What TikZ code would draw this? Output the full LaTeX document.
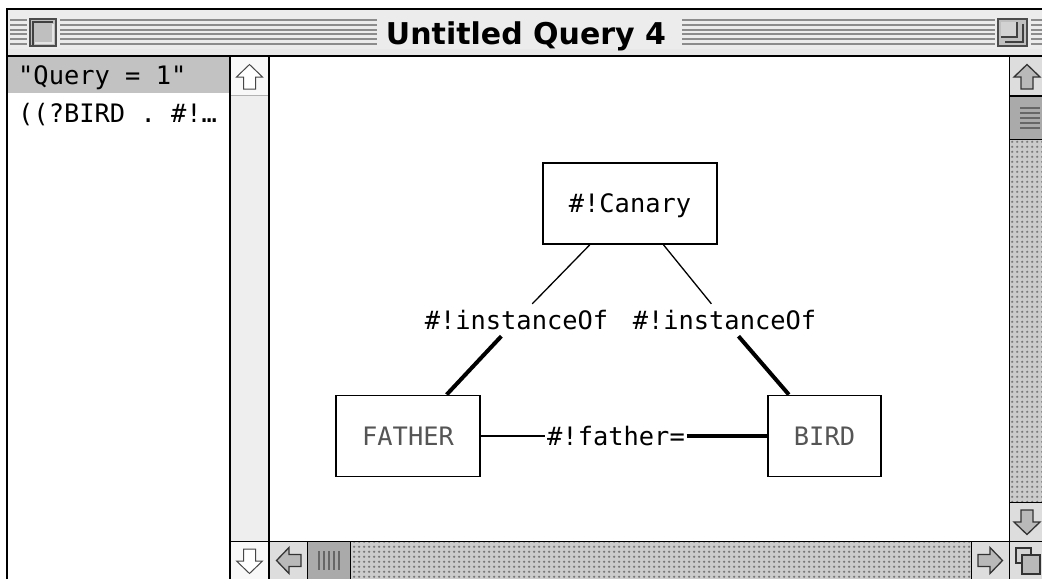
\documentclass[tikz,border=0pt]{standalone}
\usepackage{fontspec}
\usetikzlibrary{patterns.meta}
\newfontfamily\monof{DejaVu Sans Mono}
\newfontfamily\titlef{DejaVu Sans}
\newcommand\qmono{\monof\fontsize{25.4}{30}\selectfont}
\definecolor{titlebg}{RGB}{236,236,236}
\definecolor{stripec}{RGB}{140,140,140}
\definecolor{sbbg}{RGB}{221,221,221}
\definecolor{trackbg}{RGB}{204,204,204}
\definecolor{dotc}{RGB}{120,120,120}
\definecolor{thumbc}{RGB}{170,170,170}
\definecolor{hilite}{RGB}{194,194,194}
\definecolor{nodetxt}{RGB}{85,85,85}
\definecolor{listsb}{RGB}{238,238,238}
\tikzdeclarepattern{
  name=macdots,
  type=uncolored,
  bounding box={(0pt,0pt) and (4.7pt,4.7pt)},
  tile size={(4.7pt,4.7pt)},
  code={\fill (2.35pt,2.35pt) circle (1.3pt);}
}
\tikzset{
  macarrow/.pic={\path[pic actions] (0,-12.5) -- (13,0) -- (6,0) -- (6,12) -- (-6,12) -- (-6,0) -- (-13,0) -- cycle;},
  solidarrow/.style={fill=gray!55, draw=black!80, line width=1.3pt, line join=miter},
  hollowarrow/.style={fill=white, draw=gray!55!black, line width=1pt, line join=miter},
  stripeline/.style={stripec, line width=2pt},
  sepline/.style={black, line width=1.6pt},
  gbox/.style={draw, line width=1.8pt, fill=white, font=\qmono, minimum height=81pt,
    inner sep=0pt, text height=18.5pt, text depth=0pt},
  elab/.style={font=\qmono, inner xsep=1.5pt, inner ysep=0pt, text height=18.5pt,
    text depth=0pt, minimum height=32pt},
  thinedge/.style={line width=1.3pt},
  thickedge/.style={line width=4pt},
  listtext/.style={font=\qmono, anchor=base west, inner sep=0pt},
  ridge/.style={black!60, line width=1.4pt}
}
\begin{document}
\begin{tikzpicture}[x=1pt,y=-1pt]
\useasboundingbox (0,0) rectangle (1042,579);
\fill[white] (0,0) rectangle (1042,579);
% ---------- title bar ----------
\fill[titlebg] (7,9) rectangle (1042,55);
\fill[gray!18] (7,49) rectangle (1042,55);
\foreach \yy in {20,24.8,29.6,34.4,39.2,44}{
  \draw[stripeline] (10,\yy) -- (27,\yy);
  \draw[stripeline] (60,\yy) -- (377,\yy);
  \draw[stripeline] (682,\yy) -- (995,\yy);
  \draw[stripeline] (1031,\yy) -- (1042,\yy);
}
% close box
\fill[gray!50] (29,18) rectangle (57,47);
\draw[black!70, line width=2pt] (30,19) rectangle (56,46);
\draw[black!75, line width=1.6pt] (33,45) -- (33,22) -- (53,22);
\draw[white!80!gray, line width=1.2pt] (35,43) -- (53,43) -- (53,24);
% zoom box
\fill[gray!50] (997,18) rectangle (1028,47);
\draw[black!70, line width=2pt] (998,19) rectangle (1027,46);
\fill[gray!35] (1001,22) rectangle (1017,37);
\draw[black!75, line width=1.6pt] (1001,37) -- (1017,37) -- (1017,22);
\draw[black!75, line width=1.6pt] (1005,42) -- (1023,42) -- (1023,24);
% title
\node[font=\titlef\bfseries\fontsize{30}{36}\selectfont, text height=21.9pt, text depth=0pt,
  inner sep=0pt] (title) at (526,34) {Untitled Query 4};
% window frame
\draw[black, line width=2pt] (7,579) -- (7,9) -- (1042,9);
\draw[black, line width=2pt] (7,55.5) -- (1042,55.5);
% ---------- list panel ----------
\fill[hilite] (8,57) rectangle (230,93);
\node[listtext] (row1) at (18,84) {"Query = 1"};
\node[listtext] (row2) at (18,122) {((?BIRD . \#!…};
% list scrollbar
\fill[listsb] (230,57) rectangle (269,579);
\fill[white!60!listsb] (231,57) rectangle (268,95);
\draw[gray!60, line width=1pt] (230,95) -- (269,95);
\fill[white!60!listsb] (231,542) rectangle (268,579);
\pic[hollowarrow] at (249.5,77) {macarrow};
\pic[hollowarrow, rotate=180] at (249.5,561) {macarrow};
% ---------- right scrollbar ----------
\fill[sbbg] (1010,57) rectangle (1042,95);
\fill[thumbc] (1010,97) rectangle (1042,139);
\foreach \yy in {108,113,118,123,128}{ \draw[ridge] (1020,\yy) -- (1040,\yy); }
\fill[trackbg] (1010,140) rectangle (1042,502);
\fill[pattern=macdots, pattern color=dotc] (1010,140) rectangle (1042,502);
\fill[sbbg] (1010,503) rectangle (1042,541);
\draw[sepline] (1009,96) -- (1042,96);
\draw[sepline] (1009,139.5) -- (1042,139.5);
\draw[sepline] (1009,502.5) -- (1042,502.5);
\pic[solidarrow] at (1027,77) {macarrow};
\pic[solidarrow, rotate=180] at (1027,522) {macarrow};
% ---------- bottom scrollbar ----------
\fill[sbbg] (270,542) rectangle (307,579);
\fill[thumbc] (308,542) rectangle (350,579);
\foreach \xx in {319,324,329,334,339}{ \draw[ridge] (\xx,551) -- (\xx,570); }
\fill[trackbg] (351,542) rectangle (971,579);
\fill[pattern=macdots, pattern color=dotc] (351,542) rectangle (971,579);
\fill[sbbg] (972,542) rectangle (1009,579);
\draw[sepline] (307.5,541) -- (307.5,579);
\draw[sepline] (350.5,541) -- (350.5,579);
\draw[sepline] (971.5,541) -- (971.5,579);
\pic[solidarrow, rotate=90] at (289,560.5) {macarrow};
\pic[solidarrow, rotate=-90] at (990,560.5) {macarrow};
% resize box
\fill[sbbg] (1010,542) rectangle (1042,579);
\filldraw[fill=gray!35, draw=black!80, line width=1.4pt] (1016,548) rectangle (1031,563);
\filldraw[fill=gray!55, draw=black!80, line width=1.4pt] (1022,555) rectangle (1040,574);
% separators
\draw[sepline] (230,56) -- (230,579);
\draw[sepline] (269,56) -- (269,579);
\draw[sepline] (1009.5,56) -- (1009.5,579);
\draw[sepline] (230,541.5) -- (1042,541.5);
% ---------- graph ----------
\node[gbox, minimum width=174pt] (canary) at (630,203.5) {\#!Canary};
\node[gbox, minimum width=144pt, text=nodetxt] (father) at (408,436) {FATHER};
\node[gbox, minimum width=113pt, text=nodetxt] (bird) at (824.5,436) {BIRD};
\node[elab] (io1) at (516.5,320) {\#!instanceOf};
\node[elab] (io2) at (724.5,320) {\#!instanceOf};
\node[elab] (fe) at (616,436) {\#!father=};
\draw[thinedge] (canary) -- (io1);
\draw[thickedge] (io1) -- (father);
\draw[thinedge] (canary) -- (io2);
\draw[thickedge] (io2) -- (bird);
\draw[thinedge] (father) -- (fe);
\draw[thickedge] (fe) -- (bird);
\end{tikzpicture}
\end{document}
